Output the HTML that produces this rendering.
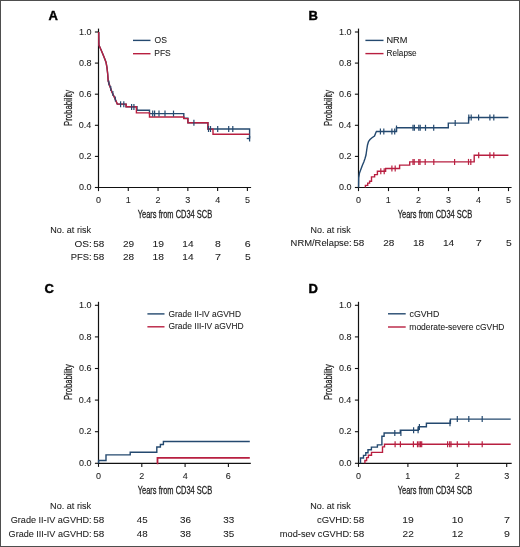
<!DOCTYPE html>
<html><head><meta charset="utf-8"><style>
html,body{margin:0;padding:0;background:#fff;}
body{width:520px;height:547px;overflow:hidden;}
svg{display:block;will-change:transform;}
text{font-family:"Liberation Sans",sans-serif;fill:#1e1e1e;}
.t{stroke:#1e1e1e;stroke-width:0.08px;}
.ax{stroke:#1e1e1e;stroke-width:0.28px;}
.pl{fill:#000;stroke:#000;stroke-width:0.4px;}
</style></head><body>
<svg width="520" height="547" viewBox="0 0 520 547">
<rect x="0" y="0" width="520" height="547" fill="#fff"/>
<text x="48.62" y="19.60" font-size="13" font-weight="bold" class="pl" textLength="9.39" lengthAdjust="spacingAndGlyphs">A</text>
<text x="308.57" y="19.60" font-size="13" font-weight="bold" class="pl" textLength="9.39" lengthAdjust="spacingAndGlyphs">B</text>
<text x="44.62" y="292.70" font-size="13" font-weight="bold" class="pl" textLength="9.39" lengthAdjust="spacingAndGlyphs">C</text>
<text x="308.54" y="292.70" font-size="13" font-weight="bold" class="pl" textLength="9.39" lengthAdjust="spacingAndGlyphs">D</text>
<line x1="98.5" y1="28.6" x2="98.5" y2="188.1" stroke="#111" stroke-width="1.2"/>
<line x1="94.9" y1="187.50" x2="98.5" y2="187.50" stroke="#111" stroke-width="1.1"/>
<text x="78.94" y="190.10" font-size="9" class="t" textLength="12.51" lengthAdjust="spacingAndGlyphs">0.0</text>
<line x1="94.9" y1="156.40" x2="98.5" y2="156.40" stroke="#111" stroke-width="1.1"/>
<text x="79.04" y="159.00" font-size="9" class="t" textLength="12.51" lengthAdjust="spacingAndGlyphs">0.2</text>
<line x1="94.9" y1="125.30" x2="98.5" y2="125.30" stroke="#111" stroke-width="1.1"/>
<text x="78.85" y="127.90" font-size="9" class="t" textLength="12.51" lengthAdjust="spacingAndGlyphs">0.4</text>
<line x1="94.9" y1="94.20" x2="98.5" y2="94.20" stroke="#111" stroke-width="1.1"/>
<text x="78.98" y="96.80" font-size="9" class="t" textLength="12.51" lengthAdjust="spacingAndGlyphs">0.6</text>
<line x1="94.9" y1="63.10" x2="98.5" y2="63.10" stroke="#111" stroke-width="1.1"/>
<text x="78.98" y="65.70" font-size="9" class="t" textLength="12.51" lengthAdjust="spacingAndGlyphs">0.8</text>
<line x1="94.9" y1="32.00" x2="98.5" y2="32.00" stroke="#111" stroke-width="1.1"/>
<text x="78.94" y="34.60" font-size="9" class="t" textLength="12.51" lengthAdjust="spacingAndGlyphs">1.0</text>
<line x1="97.9" y1="187.5" x2="251.1" y2="187.5" stroke="#111" stroke-width="1.2"/>
<line x1="98.50" y1="187.5" x2="98.50" y2="191.1" stroke="#111" stroke-width="1.1"/>
<text x="96.00" y="202.70" font-size="9" class="t" textLength="5.01" lengthAdjust="spacingAndGlyphs">0</text>
<line x1="128.28" y1="187.5" x2="128.28" y2="191.1" stroke="#111" stroke-width="1.1"/>
<text x="125.65" y="202.70" font-size="9" class="t" textLength="5.01" lengthAdjust="spacingAndGlyphs">1</text>
<line x1="158.06" y1="187.5" x2="158.06" y2="191.1" stroke="#111" stroke-width="1.1"/>
<text x="155.56" y="202.70" font-size="9" class="t" textLength="5.01" lengthAdjust="spacingAndGlyphs">2</text>
<line x1="187.84" y1="187.5" x2="187.84" y2="191.1" stroke="#111" stroke-width="1.1"/>
<text x="185.36" y="202.70" font-size="9" class="t" textLength="5.01" lengthAdjust="spacingAndGlyphs">3</text>
<line x1="217.62" y1="187.5" x2="217.62" y2="191.1" stroke="#111" stroke-width="1.1"/>
<text x="215.15" y="202.70" font-size="9" class="t" textLength="5.01" lengthAdjust="spacingAndGlyphs">4</text>
<line x1="247.40" y1="187.5" x2="247.40" y2="191.1" stroke="#111" stroke-width="1.1"/>
<text x="244.91" y="202.70" font-size="9" class="t" textLength="5.01" lengthAdjust="spacingAndGlyphs">5</text>
<text transform="translate(71.8,125.3) rotate(-90)" x="-0.63" y="0" font-size="10.5" class="ax" textLength="36.05" lengthAdjust="spacingAndGlyphs">Probability</text>
<text x="137.74" y="218.00" font-size="10.5" class="ax" textLength="74.45" lengthAdjust="spacingAndGlyphs">Years from CD34 SCB</text>
<line x1="133" y1="40.4" x2="150.5" y2="40.4" stroke="#24496f" stroke-width="1.4"/>
<text x="154.59" y="42.90" font-size="9" class="t" textLength="12.40" lengthAdjust="spacingAndGlyphs">OS</text>
<line x1="133" y1="53.7" x2="150.5" y2="53.7" stroke="#b81f40" stroke-width="1.4"/>
<text x="154.30" y="56.00" font-size="9" class="t" textLength="16.48" lengthAdjust="spacingAndGlyphs">PFS</text>
<line x1="358.5" y1="28.6" x2="358.5" y2="188.1" stroke="#111" stroke-width="1.2"/>
<line x1="354.9" y1="187.50" x2="358.5" y2="187.50" stroke="#111" stroke-width="1.1"/>
<text x="338.94" y="190.10" font-size="9" class="t" textLength="12.51" lengthAdjust="spacingAndGlyphs">0.0</text>
<line x1="354.9" y1="156.40" x2="358.5" y2="156.40" stroke="#111" stroke-width="1.1"/>
<text x="339.04" y="159.00" font-size="9" class="t" textLength="12.51" lengthAdjust="spacingAndGlyphs">0.2</text>
<line x1="354.9" y1="125.30" x2="358.5" y2="125.30" stroke="#111" stroke-width="1.1"/>
<text x="338.85" y="127.90" font-size="9" class="t" textLength="12.51" lengthAdjust="spacingAndGlyphs">0.4</text>
<line x1="354.9" y1="94.20" x2="358.5" y2="94.20" stroke="#111" stroke-width="1.1"/>
<text x="338.98" y="96.80" font-size="9" class="t" textLength="12.51" lengthAdjust="spacingAndGlyphs">0.6</text>
<line x1="354.9" y1="63.10" x2="358.5" y2="63.10" stroke="#111" stroke-width="1.1"/>
<text x="338.98" y="65.70" font-size="9" class="t" textLength="12.51" lengthAdjust="spacingAndGlyphs">0.8</text>
<line x1="354.9" y1="32.00" x2="358.5" y2="32.00" stroke="#111" stroke-width="1.1"/>
<text x="338.94" y="34.60" font-size="9" class="t" textLength="12.51" lengthAdjust="spacingAndGlyphs">1.0</text>
<line x1="357.9" y1="187.5" x2="511.6" y2="187.5" stroke="#111" stroke-width="1.2"/>
<line x1="358.50" y1="187.5" x2="358.50" y2="191.1" stroke="#111" stroke-width="1.1"/>
<text x="356.00" y="202.70" font-size="9" class="t" textLength="5.01" lengthAdjust="spacingAndGlyphs">0</text>
<line x1="388.50" y1="187.5" x2="388.50" y2="191.1" stroke="#111" stroke-width="1.1"/>
<text x="385.87" y="202.70" font-size="9" class="t" textLength="5.01" lengthAdjust="spacingAndGlyphs">1</text>
<line x1="418.50" y1="187.5" x2="418.50" y2="191.1" stroke="#111" stroke-width="1.1"/>
<text x="416.00" y="202.70" font-size="9" class="t" textLength="5.01" lengthAdjust="spacingAndGlyphs">2</text>
<line x1="448.50" y1="187.5" x2="448.50" y2="191.1" stroke="#111" stroke-width="1.1"/>
<text x="446.02" y="202.70" font-size="9" class="t" textLength="5.01" lengthAdjust="spacingAndGlyphs">3</text>
<line x1="478.50" y1="187.5" x2="478.50" y2="191.1" stroke="#111" stroke-width="1.1"/>
<text x="476.03" y="202.70" font-size="9" class="t" textLength="5.01" lengthAdjust="spacingAndGlyphs">4</text>
<line x1="508.50" y1="187.5" x2="508.50" y2="191.1" stroke="#111" stroke-width="1.1"/>
<text x="506.01" y="202.70" font-size="9" class="t" textLength="5.01" lengthAdjust="spacingAndGlyphs">5</text>
<text transform="translate(331.8,125.3) rotate(-90)" x="-0.63" y="0" font-size="10.5" class="ax" textLength="36.05" lengthAdjust="spacingAndGlyphs">Probability</text>
<text x="397.74" y="218.00" font-size="10.5" class="ax" textLength="74.45" lengthAdjust="spacingAndGlyphs">Years from CD34 SCB</text>
<line x1="365.4" y1="40.4" x2="383.5" y2="40.4" stroke="#24496f" stroke-width="1.4"/>
<text x="386.44" y="42.80" font-size="9" class="t" textLength="21.01" lengthAdjust="spacingAndGlyphs">NRM</text>
<line x1="365.4" y1="53.6" x2="383.5" y2="53.6" stroke="#b81f40" stroke-width="1.4"/>
<text x="386.53" y="56.00" font-size="9" class="t" textLength="30.14" lengthAdjust="spacingAndGlyphs">Relapse</text>
<line x1="98.5" y1="301.8" x2="98.5" y2="463.90000000000003" stroke="#111" stroke-width="1.2"/>
<line x1="94.9" y1="463.30" x2="98.5" y2="463.30" stroke="#111" stroke-width="1.1"/>
<text x="78.94" y="465.90" font-size="9" class="t" textLength="12.51" lengthAdjust="spacingAndGlyphs">0.0</text>
<line x1="94.9" y1="431.70" x2="98.5" y2="431.70" stroke="#111" stroke-width="1.1"/>
<text x="79.04" y="434.30" font-size="9" class="t" textLength="12.51" lengthAdjust="spacingAndGlyphs">0.2</text>
<line x1="94.9" y1="400.10" x2="98.5" y2="400.10" stroke="#111" stroke-width="1.1"/>
<text x="78.85" y="402.70" font-size="9" class="t" textLength="12.51" lengthAdjust="spacingAndGlyphs">0.4</text>
<line x1="94.9" y1="368.50" x2="98.5" y2="368.50" stroke="#111" stroke-width="1.1"/>
<text x="78.98" y="371.10" font-size="9" class="t" textLength="12.51" lengthAdjust="spacingAndGlyphs">0.6</text>
<line x1="94.9" y1="336.90" x2="98.5" y2="336.90" stroke="#111" stroke-width="1.1"/>
<text x="78.98" y="339.50" font-size="9" class="t" textLength="12.51" lengthAdjust="spacingAndGlyphs">0.8</text>
<line x1="94.9" y1="305.30" x2="98.5" y2="305.30" stroke="#111" stroke-width="1.1"/>
<text x="78.94" y="307.90" font-size="9" class="t" textLength="12.51" lengthAdjust="spacingAndGlyphs">1.0</text>
<line x1="97.9" y1="463.3" x2="250.8" y2="463.3" stroke="#111" stroke-width="1.2"/>
<line x1="98.50" y1="463.3" x2="98.50" y2="466.90000000000003" stroke="#111" stroke-width="1.1"/>
<text x="96.00" y="478.50" font-size="9" class="t" textLength="5.01" lengthAdjust="spacingAndGlyphs">0</text>
<line x1="141.80" y1="463.3" x2="141.80" y2="466.90000000000003" stroke="#111" stroke-width="1.1"/>
<text x="139.30" y="478.50" font-size="9" class="t" textLength="5.01" lengthAdjust="spacingAndGlyphs">2</text>
<line x1="185.10" y1="463.3" x2="185.10" y2="466.90000000000003" stroke="#111" stroke-width="1.1"/>
<text x="182.63" y="478.50" font-size="9" class="t" textLength="5.01" lengthAdjust="spacingAndGlyphs">4</text>
<line x1="228.40" y1="463.3" x2="228.40" y2="466.90000000000003" stroke="#111" stroke-width="1.1"/>
<text x="225.87" y="478.50" font-size="9" class="t" textLength="5.01" lengthAdjust="spacingAndGlyphs">6</text>
<text transform="translate(72.3,399.4) rotate(-90)" x="-0.63" y="0" font-size="10.5" class="ax" textLength="35.74" lengthAdjust="spacingAndGlyphs">Probability</text>
<text x="137.74" y="494.00" font-size="10.5" class="ax" textLength="74.45" lengthAdjust="spacingAndGlyphs">Years from CD34 SCB</text>
<line x1="147.4" y1="313.9" x2="164.5" y2="313.9" stroke="#24496f" stroke-width="1.4"/>
<text x="168.48" y="316.50" font-size="9" class="t" textLength="72.53" lengthAdjust="spacingAndGlyphs">Grade II-IV aGVHD</text>
<line x1="147.4" y1="326.8" x2="164.5" y2="326.8" stroke="#b81f40" stroke-width="1.4"/>
<text x="168.48" y="329.40" font-size="9" class="t" textLength="75.13" lengthAdjust="spacingAndGlyphs">Grade III-IV aGVHD</text>
<line x1="358.5" y1="301.8" x2="358.5" y2="463.90000000000003" stroke="#111" stroke-width="1.2"/>
<line x1="354.9" y1="463.30" x2="358.5" y2="463.30" stroke="#111" stroke-width="1.1"/>
<text x="338.94" y="465.90" font-size="9" class="t" textLength="12.51" lengthAdjust="spacingAndGlyphs">0.0</text>
<line x1="354.9" y1="431.70" x2="358.5" y2="431.70" stroke="#111" stroke-width="1.1"/>
<text x="339.04" y="434.30" font-size="9" class="t" textLength="12.51" lengthAdjust="spacingAndGlyphs">0.2</text>
<line x1="354.9" y1="400.10" x2="358.5" y2="400.10" stroke="#111" stroke-width="1.1"/>
<text x="338.85" y="402.70" font-size="9" class="t" textLength="12.51" lengthAdjust="spacingAndGlyphs">0.4</text>
<line x1="354.9" y1="368.50" x2="358.5" y2="368.50" stroke="#111" stroke-width="1.1"/>
<text x="338.98" y="371.10" font-size="9" class="t" textLength="12.51" lengthAdjust="spacingAndGlyphs">0.6</text>
<line x1="354.9" y1="336.90" x2="358.5" y2="336.90" stroke="#111" stroke-width="1.1"/>
<text x="338.98" y="339.50" font-size="9" class="t" textLength="12.51" lengthAdjust="spacingAndGlyphs">0.8</text>
<line x1="354.9" y1="305.30" x2="358.5" y2="305.30" stroke="#111" stroke-width="1.1"/>
<text x="338.94" y="307.90" font-size="9" class="t" textLength="12.51" lengthAdjust="spacingAndGlyphs">1.0</text>
<line x1="357.9" y1="463.3" x2="511.7" y2="463.3" stroke="#111" stroke-width="1.2"/>
<line x1="358.50" y1="463.3" x2="358.50" y2="466.90000000000003" stroke="#111" stroke-width="1.1"/>
<text x="356.00" y="478.50" font-size="9" class="t" textLength="5.01" lengthAdjust="spacingAndGlyphs">0</text>
<line x1="407.90" y1="463.3" x2="407.90" y2="466.90000000000003" stroke="#111" stroke-width="1.1"/>
<text x="405.27" y="478.50" font-size="9" class="t" textLength="5.01" lengthAdjust="spacingAndGlyphs">1</text>
<line x1="457.30" y1="463.3" x2="457.30" y2="466.90000000000003" stroke="#111" stroke-width="1.1"/>
<text x="454.80" y="478.50" font-size="9" class="t" textLength="5.01" lengthAdjust="spacingAndGlyphs">2</text>
<line x1="506.70" y1="463.3" x2="506.70" y2="466.90000000000003" stroke="#111" stroke-width="1.1"/>
<text x="504.22" y="478.50" font-size="9" class="t" textLength="5.01" lengthAdjust="spacingAndGlyphs">3</text>
<text transform="translate(332.3,399.4) rotate(-90)" x="-0.63" y="0" font-size="10.5" class="ax" textLength="35.74" lengthAdjust="spacingAndGlyphs">Probability</text>
<text x="397.74" y="494.00" font-size="10.5" class="ax" textLength="74.45" lengthAdjust="spacingAndGlyphs">Years from CD34 SCB</text>
<line x1="388.0" y1="313.8" x2="405.7" y2="313.8" stroke="#24496f" stroke-width="1.4"/>
<text x="409.53" y="316.60" font-size="9" class="t" textLength="29.79" lengthAdjust="spacingAndGlyphs">cGVHD</text>
<line x1="388.0" y1="327.0" x2="405.7" y2="327.0" stroke="#b81f40" stroke-width="1.4"/>
<text x="409.34" y="329.70" font-size="9" class="t" textLength="95.17" lengthAdjust="spacingAndGlyphs">moderate-severe cGVHD</text>
<text x="50.26" y="232.80" font-size="9" class="t" textLength="40.73" lengthAdjust="spacingAndGlyphs">No. at risk</text>
<text x="74.42" y="246.60" font-size="9" class="t" textLength="17.29" lengthAdjust="spacingAndGlyphs">OS:</text>
<text x="93.30" y="246.60" font-size="9" class="t" textLength="11.03" lengthAdjust="spacingAndGlyphs">58</text>
<text x="122.99" y="246.60" font-size="9" class="t" textLength="11.18" lengthAdjust="spacingAndGlyphs">29</text>
<text x="152.51" y="246.60" font-size="9" class="t" textLength="11.47" lengthAdjust="spacingAndGlyphs">19</text>
<text x="182.33" y="246.60" font-size="9" class="t" textLength="11.27" lengthAdjust="spacingAndGlyphs">14</text>
<text x="215.10" y="246.60" font-size="9" class="t" textLength="5.81" lengthAdjust="spacingAndGlyphs">8</text>
<text x="244.81" y="246.60" font-size="9" class="t" textLength="5.91" lengthAdjust="spacingAndGlyphs">6</text>
<text x="70.83" y="260.40" font-size="9" class="t" textLength="20.82" lengthAdjust="spacingAndGlyphs">PFS:</text>
<text x="93.30" y="260.40" font-size="9" class="t" textLength="11.03" lengthAdjust="spacingAndGlyphs">58</text>
<text x="123.00" y="260.40" font-size="9" class="t" textLength="11.14" lengthAdjust="spacingAndGlyphs">28</text>
<text x="152.52" y="260.40" font-size="9" class="t" textLength="11.43" lengthAdjust="spacingAndGlyphs">18</text>
<text x="182.33" y="260.40" font-size="9" class="t" textLength="11.27" lengthAdjust="spacingAndGlyphs">14</text>
<text x="215.00" y="260.40" font-size="9" class="t" textLength="5.99" lengthAdjust="spacingAndGlyphs">7</text>
<text x="244.94" y="260.40" font-size="9" class="t" textLength="5.75" lengthAdjust="spacingAndGlyphs">5</text>
<text x="310.47" y="232.80" font-size="9" class="t" textLength="40.22" lengthAdjust="spacingAndGlyphs">No. at risk</text>
<text x="290.63" y="246.40" font-size="9" class="t" textLength="61.03" lengthAdjust="spacingAndGlyphs">NRM/Relapse:</text>
<text x="353.30" y="246.40" font-size="9" class="t" textLength="11.03" lengthAdjust="spacingAndGlyphs">58</text>
<text x="383.20" y="246.40" font-size="9" class="t" textLength="11.14" lengthAdjust="spacingAndGlyphs">28</text>
<text x="412.92" y="246.40" font-size="9" class="t" textLength="11.43" lengthAdjust="spacingAndGlyphs">18</text>
<text x="442.93" y="246.40" font-size="9" class="t" textLength="11.27" lengthAdjust="spacingAndGlyphs">14</text>
<text x="475.80" y="246.40" font-size="9" class="t" textLength="5.99" lengthAdjust="spacingAndGlyphs">7</text>
<text x="505.94" y="246.40" font-size="9" class="t" textLength="5.75" lengthAdjust="spacingAndGlyphs">5</text>
<text x="50.05" y="508.60" font-size="9" class="t" textLength="41.03" lengthAdjust="spacingAndGlyphs">No. at risk</text>
<text x="10.74" y="522.60" font-size="9" class="t" textLength="80.89" lengthAdjust="spacingAndGlyphs">Grade II-IV aGVHD:</text>
<text x="93.30" y="522.60" font-size="9" class="t" textLength="11.03" lengthAdjust="spacingAndGlyphs">58</text>
<text x="136.78" y="522.60" font-size="9" class="t" textLength="10.83" lengthAdjust="spacingAndGlyphs">45</text>
<text x="179.92" y="522.60" font-size="9" class="t" textLength="11.01" lengthAdjust="spacingAndGlyphs">36</text>
<text x="223.22" y="522.60" font-size="9" class="t" textLength="11.01" lengthAdjust="spacingAndGlyphs">33</text>
<text x="8.64" y="536.60" font-size="9" class="t" textLength="82.98" lengthAdjust="spacingAndGlyphs">Grade III-IV aGVHD:</text>
<text x="93.30" y="536.60" font-size="9" class="t" textLength="11.03" lengthAdjust="spacingAndGlyphs">58</text>
<text x="136.78" y="536.60" font-size="9" class="t" textLength="10.85" lengthAdjust="spacingAndGlyphs">48</text>
<text x="179.92" y="536.60" font-size="9" class="t" textLength="11.01" lengthAdjust="spacingAndGlyphs">38</text>
<text x="223.22" y="536.60" font-size="9" class="t" textLength="10.99" lengthAdjust="spacingAndGlyphs">35</text>
<text x="310.16" y="508.60" font-size="9" class="t" textLength="40.63" lengthAdjust="spacingAndGlyphs">No. at risk</text>
<text x="316.90" y="522.60" font-size="9" class="t" textLength="34.77" lengthAdjust="spacingAndGlyphs">cGVHD:</text>
<text x="353.30" y="522.60" font-size="9" class="t" textLength="11.03" lengthAdjust="spacingAndGlyphs">58</text>
<text x="402.31" y="522.60" font-size="9" class="t" textLength="11.47" lengthAdjust="spacingAndGlyphs">19</text>
<text x="451.72" y="522.60" font-size="9" class="t" textLength="11.38" lengthAdjust="spacingAndGlyphs">10</text>
<text x="504.00" y="522.60" font-size="9" class="t" textLength="5.99" lengthAdjust="spacingAndGlyphs">7</text>
<text x="279.89" y="536.60" font-size="9" class="t" textLength="71.75" lengthAdjust="spacingAndGlyphs">mod-sev cGVHD:</text>
<text x="353.30" y="536.60" font-size="9" class="t" textLength="11.03" lengthAdjust="spacingAndGlyphs">58</text>
<text x="402.59" y="536.60" font-size="9" class="t" textLength="11.21" lengthAdjust="spacingAndGlyphs">22</text>
<text x="451.71" y="536.60" font-size="9" class="t" textLength="11.51" lengthAdjust="spacingAndGlyphs">12</text>
<text x="504.05" y="536.60" font-size="9" class="t" textLength="5.90" lengthAdjust="spacingAndGlyphs">9</text>
<path d="M98.70,32.00 L98.90,45.00 L100.80,49.30 L103.20,54.90 L104.80,58.90 L106.00,62.20 L106.90,67.00 L107.70,74.00 L108.20,81.00 L110.00,86.50 L111.90,92.00 L114.50,97.50 L117.30,104.10 L126.10,104.10 L126.10,106.80 L137.00,106.80 L137.00,110.30 L149.50,110.30 L149.50,113.60 L183.80,113.60 L183.80,118.20 L187.90,118.20 L187.90,122.70 L207.90,122.70 L207.90,129.00 L249.60,129.00 L249.60,138.50" fill="none" stroke="#24496f" stroke-width="1.4" stroke-linejoin="miter" stroke-linecap="butt"/>
<path d="M98.70,32.00 L98.90,45.00 L100.80,49.30 L103.20,54.90 L104.80,58.90 L106.00,62.20 L106.90,67.00 L107.70,74.00 L108.20,81.00 L110.00,86.50 L111.90,92.00 L114.50,97.50 L117.30,104.10 L126.10,104.10 L126.10,106.80 L136.40,106.80 L136.40,112.90 L149.50,112.90 L149.50,117.00 L183.80,117.00 L183.80,118.60 L187.90,118.60 L187.90,122.80 L207.90,122.80 L207.90,129.10 L213.00,129.10 L213.00,134.30 L249.60,134.30" fill="none" stroke="#b81f40" stroke-width="1.4" stroke-linejoin="miter" stroke-linecap="butt"/>
<line x1="120.6" y1="101.30" x2="120.6" y2="107.30" stroke="#24496f" stroke-width="1.2"/>
<line x1="123.8" y1="101.30" x2="123.8" y2="107.30" stroke="#24496f" stroke-width="1.2"/>
<line x1="108.9" y1="80.5" x2="108.9" y2="85.5" stroke="#24496f" stroke-width="1.1"/>
<line x1="110.8" y1="86.0" x2="110.8" y2="91.0" stroke="#24496f" stroke-width="1.1"/>
<line x1="112.9" y1="91.0" x2="112.9" y2="96.0" stroke="#24496f" stroke-width="1.1"/>
<line x1="115.3" y1="96.5" x2="115.3" y2="101.5" stroke="#24496f" stroke-width="1.1"/>
<line x1="131.6" y1="103.90" x2="131.6" y2="109.90" stroke="#24496f" stroke-width="1.2"/>
<line x1="133.9" y1="103.90" x2="133.9" y2="109.90" stroke="#24496f" stroke-width="1.2"/>
<line x1="152.7" y1="110.60" x2="152.7" y2="116.60" stroke="#24496f" stroke-width="1.2"/>
<line x1="154.6" y1="110.60" x2="154.6" y2="116.60" stroke="#24496f" stroke-width="1.2"/>
<line x1="159" y1="110.60" x2="159" y2="116.60" stroke="#24496f" stroke-width="1.2"/>
<line x1="165" y1="110.60" x2="165" y2="116.60" stroke="#24496f" stroke-width="1.2"/>
<line x1="173.5" y1="110.60" x2="173.5" y2="116.60" stroke="#24496f" stroke-width="1.2"/>
<line x1="193.9" y1="119.70" x2="193.9" y2="125.70" stroke="#24496f" stroke-width="1.2"/>
<line x1="208.5" y1="126.00" x2="208.5" y2="132.00" stroke="#24496f" stroke-width="1.2"/>
<line x1="210.5" y1="126.00" x2="210.5" y2="132.00" stroke="#24496f" stroke-width="1.2"/>
<line x1="217.7" y1="126.00" x2="217.7" y2="132.00" stroke="#24496f" stroke-width="1.2"/>
<line x1="228.7" y1="126.00" x2="228.7" y2="132.00" stroke="#24496f" stroke-width="1.2"/>
<line x1="232.8" y1="126.00" x2="232.8" y2="132.00" stroke="#24496f" stroke-width="1.2"/>
<line x1="246.7" y1="138.5" x2="249.6" y2="138.5" stroke="#24496f" stroke-width="1.3"/>
<line x1="249.6" y1="136" x2="249.6" y2="141.5" stroke="#24496f" stroke-width="1.3"/>
<path d="M358.60,187.50 L358.70,178.00 L359.50,173.00 L361.00,169.00 L362.50,165.00 L363.80,162.00 L365.00,158.50 L366.00,155.00 L366.70,150.00 L367.50,145.00 L368.50,141.50 L370.00,139.50 L372.00,137.80 L374.50,136.00 L375.50,133.50 L376.40,131.50 L396.50,131.50 L396.50,127.80 L448.30,127.80 L448.30,123.10 L468.60,123.10 L468.60,117.50 L508.40,117.50" fill="none" stroke="#24496f" stroke-width="1.4" stroke-linejoin="miter" stroke-linecap="butt"/>
<line x1="380.4" y1="128.50" x2="380.4" y2="134.50" stroke="#24496f" stroke-width="1.2"/>
<line x1="383.8" y1="128.50" x2="383.8" y2="134.50" stroke="#24496f" stroke-width="1.2"/>
<line x1="391.9" y1="128.50" x2="391.9" y2="134.50" stroke="#24496f" stroke-width="1.2"/>
<line x1="394.7" y1="128.50" x2="394.7" y2="134.50" stroke="#24496f" stroke-width="1.2"/>
<line x1="396.5" y1="125.50" x2="396.5" y2="131.50" stroke="#24496f" stroke-width="1.2"/>
<line x1="413" y1="124.80" x2="413" y2="130.80" stroke="#24496f" stroke-width="1.2"/>
<line x1="414.4" y1="124.80" x2="414.4" y2="130.80" stroke="#24496f" stroke-width="1.2"/>
<line x1="418.8" y1="124.80" x2="418.8" y2="130.80" stroke="#24496f" stroke-width="1.2"/>
<line x1="420.2" y1="124.80" x2="420.2" y2="130.80" stroke="#24496f" stroke-width="1.2"/>
<line x1="425.5" y1="124.80" x2="425.5" y2="130.80" stroke="#24496f" stroke-width="1.2"/>
<line x1="433.7" y1="124.80" x2="433.7" y2="130.80" stroke="#24496f" stroke-width="1.2"/>
<line x1="455.2" y1="120.10" x2="455.2" y2="126.10" stroke="#24496f" stroke-width="1.2"/>
<line x1="468.8" y1="114.50" x2="468.8" y2="120.50" stroke="#24496f" stroke-width="1.2"/>
<line x1="471.2" y1="114.50" x2="471.2" y2="120.50" stroke="#24496f" stroke-width="1.2"/>
<line x1="478.6" y1="114.50" x2="478.6" y2="120.50" stroke="#24496f" stroke-width="1.2"/>
<line x1="489.9" y1="114.50" x2="489.9" y2="120.50" stroke="#24496f" stroke-width="1.2"/>
<line x1="493.8" y1="114.50" x2="493.8" y2="120.50" stroke="#24496f" stroke-width="1.2"/>
<path d="M365.40,187.50 L365.40,187.50 L365.40,185.40 L367.70,185.40 L367.70,183.10 L369.60,183.10 L369.60,181.20 L371.50,181.20 L371.50,176.90 L374.60,176.90 L374.60,174.60 L377.40,174.60 L377.40,171.30 L385.60,171.30 L385.60,168.50 L399.60,168.50 L399.60,165.10 L409.70,165.10 L409.70,161.90 L474.20,161.90 L474.20,155.20 L508.40,155.20 L508.40,155.20" fill="none" stroke="#b81f40" stroke-width="1.4" stroke-linejoin="miter" stroke-linecap="butt"/>
<line x1="380.8" y1="168.30" x2="380.8" y2="174.30" stroke="#b81f40" stroke-width="1.2"/>
<line x1="384.2" y1="168.30" x2="384.2" y2="174.30" stroke="#b81f40" stroke-width="1.2"/>
<line x1="391.9" y1="165.50" x2="391.9" y2="171.50" stroke="#b81f40" stroke-width="1.2"/>
<line x1="395.2" y1="165.50" x2="395.2" y2="171.50" stroke="#b81f40" stroke-width="1.2"/>
<line x1="413" y1="158.90" x2="413" y2="164.90" stroke="#b81f40" stroke-width="1.2"/>
<line x1="414.2" y1="158.90" x2="414.2" y2="164.90" stroke="#b81f40" stroke-width="1.2"/>
<line x1="418.8" y1="158.90" x2="418.8" y2="164.90" stroke="#b81f40" stroke-width="1.2"/>
<line x1="420" y1="158.90" x2="420" y2="164.90" stroke="#b81f40" stroke-width="1.2"/>
<line x1="425.2" y1="158.90" x2="425.2" y2="164.90" stroke="#b81f40" stroke-width="1.2"/>
<line x1="433.8" y1="158.90" x2="433.8" y2="164.90" stroke="#b81f40" stroke-width="1.2"/>
<line x1="454.6" y1="158.90" x2="454.6" y2="164.90" stroke="#b81f40" stroke-width="1.2"/>
<line x1="468.5" y1="158.90" x2="468.5" y2="164.90" stroke="#b81f40" stroke-width="1.2"/>
<line x1="470.8" y1="158.90" x2="470.8" y2="164.90" stroke="#b81f40" stroke-width="1.2"/>
<line x1="478.7" y1="152.20" x2="478.7" y2="158.20" stroke="#b81f40" stroke-width="1.2"/>
<line x1="489.9" y1="152.20" x2="489.9" y2="158.20" stroke="#b81f40" stroke-width="1.2"/>
<line x1="493.8" y1="152.20" x2="493.8" y2="158.20" stroke="#b81f40" stroke-width="1.2"/>
<path d="M98.60,463.30 L98.60,463.30 L98.60,460.50 L106.00,460.50 L106.00,454.90 L130.20,454.90 L130.20,452.30 L156.80,452.30 L156.80,447.00 L160.40,447.00 L160.40,444.50 L163.40,444.50 L163.40,441.50 L249.80,441.50 L249.80,441.50" fill="none" stroke="#24496f" stroke-width="1.4" stroke-linejoin="miter" stroke-linecap="butt"/>
<path d="M156.80,463.30 L157.50,463.30 L157.50,457.80 L249.80,457.80 L249.80,457.80" fill="none" stroke="#b81f40" stroke-width="1.8" stroke-linejoin="miter" stroke-linecap="butt"/>
<path d="M360.50,463.30 L360.50,463.30 L360.50,458.00 L363.50,458.00 L363.50,455.40 L365.80,455.40 L365.80,452.80 L368.00,452.80 L368.00,449.80 L371.40,449.80 L371.40,447.10 L377.40,447.10 L377.40,444.90 L381.90,444.90 L381.90,436.30 L384.10,436.30 L384.10,433.00 L400.30,433.00 L400.30,430.20 L418.40,430.20 L418.40,426.80 L426.40,426.80 L426.40,423.30 L450.40,423.30 L450.40,419.10 L510.70,419.10 L510.70,419.10" fill="none" stroke="#24496f" stroke-width="1.4" stroke-linejoin="miter" stroke-linecap="butt"/>
<path d="M364.90,463.30 L364.90,463.30 L364.90,460.50 L366.60,460.50 L366.60,457.60 L368.40,457.60 L368.40,455.30 L371.50,455.30 L371.50,452.40 L382.50,452.40 L382.50,446.90 L384.50,446.90 L384.50,444.30 L510.70,444.30 L510.70,444.30" fill="none" stroke="#b81f40" stroke-width="1.4" stroke-linejoin="miter" stroke-linecap="butt"/>
<line x1="394.8" y1="430.00" x2="394.8" y2="436.00" stroke="#24496f" stroke-width="1.2"/>
<line x1="400.9" y1="430.00" x2="400.9" y2="436.00" stroke="#24496f" stroke-width="1.2"/>
<line x1="413.6" y1="427.20" x2="413.6" y2="433.20" stroke="#24496f" stroke-width="1.2"/>
<line x1="418.1" y1="427.20" x2="418.1" y2="433.20" stroke="#24496f" stroke-width="1.2"/>
<line x1="419.4" y1="424.00" x2="419.4" y2="430.00" stroke="#24496f" stroke-width="1.2"/>
<line x1="450.0" y1="420.20" x2="450.0" y2="426.20" stroke="#24496f" stroke-width="1.2"/>
<line x1="457.3" y1="416.10" x2="457.3" y2="422.10" stroke="#24496f" stroke-width="1.2"/>
<line x1="468.8" y1="416.10" x2="468.8" y2="422.10" stroke="#24496f" stroke-width="1.2"/>
<line x1="482.2" y1="416.10" x2="482.2" y2="422.10" stroke="#24496f" stroke-width="1.2"/>
<line x1="395.1" y1="441.30" x2="395.1" y2="447.30" stroke="#b81f40" stroke-width="1.2"/>
<line x1="400.4" y1="441.30" x2="400.4" y2="447.30" stroke="#b81f40" stroke-width="1.2"/>
<line x1="413.4" y1="441.30" x2="413.4" y2="447.30" stroke="#b81f40" stroke-width="1.2"/>
<line x1="417.5" y1="441.30" x2="417.5" y2="447.30" stroke="#b81f40" stroke-width="1.2"/>
<line x1="419.0" y1="441.30" x2="419.0" y2="447.30" stroke="#b81f40" stroke-width="1.2"/>
<line x1="420.4" y1="441.30" x2="420.4" y2="447.30" stroke="#b81f40" stroke-width="1.2"/>
<line x1="421.7" y1="441.30" x2="421.7" y2="447.30" stroke="#b81f40" stroke-width="1.2"/>
<line x1="447.6" y1="441.30" x2="447.6" y2="447.30" stroke="#b81f40" stroke-width="1.2"/>
<line x1="449.7" y1="441.30" x2="449.7" y2="447.30" stroke="#b81f40" stroke-width="1.2"/>
<line x1="451.0" y1="441.30" x2="451.0" y2="447.30" stroke="#b81f40" stroke-width="1.2"/>
<line x1="457.3" y1="441.30" x2="457.3" y2="447.30" stroke="#b81f40" stroke-width="1.2"/>
<line x1="468.8" y1="441.30" x2="468.8" y2="447.30" stroke="#b81f40" stroke-width="1.2"/>
<line x1="482.2" y1="441.30" x2="482.2" y2="447.30" stroke="#b81f40" stroke-width="1.2"/>
<rect x="0.5" y="0.5" width="519" height="546" fill="none" stroke="#4e4e4e" stroke-width="1"/>
</svg>
</body></html>
